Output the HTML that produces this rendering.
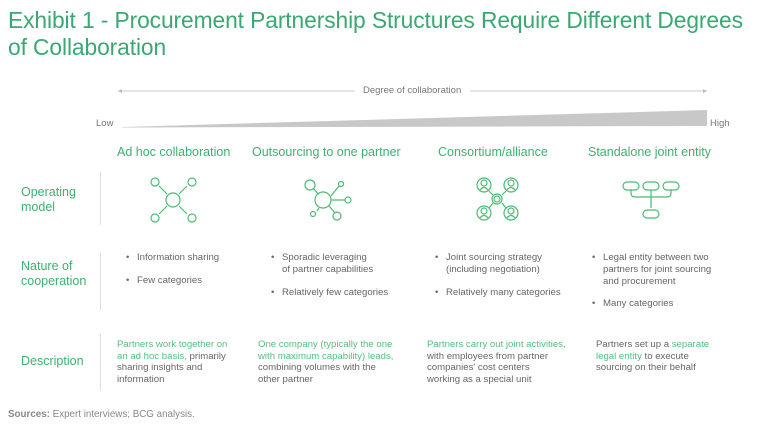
<!DOCTYPE html>
<html><head><meta charset="utf-8"><style>
body{margin:0;width:768px;height:439px;background:#fff;position:relative;overflow:hidden;font-family:"Liberation Sans",sans-serif}
div{position:absolute;white-space:nowrap}
.t{color:#3aa872;font-size:22.8px;left:8px;letter-spacing:-0.1px}
.h{color:#3fb06e;font-size:12.5px;top:145px}
.r{color:#3fb06e;font-size:12.5px;left:21px;line-height:15px}
.v{width:1px;background:#ddd;left:100px}
.b{font-size:9.6px;color:#666;line-height:11.8px}
.b span{position:absolute;left:-11px}
.d{font-size:9.6px;color:#666;line-height:11.6px}
.g{color:#55c07e}
</style></head><body>
<div class="t" style="top:7px">Exhibit 1 - Procurement Partnership Structures Require Different Degrees</div>
<div class="t" style="top:34px">of Collaboration</div>
<svg style="position:absolute;left:0;top:0" width="768" height="439">
<line x1="118" y1="91" x2="355" y2="91" stroke="#ccc" stroke-width="1"/>
<line x1="470" y1="91" x2="707" y2="91" stroke="#ccc" stroke-width="1"/>
<path d="M118 91l4-2v4zM707 91l-4-2v4z" fill="#bbb"/>
<polygon points="122,127 707,110 707,126 122,127.5" fill="#c8c8c8"/>
<g fill="none" stroke="#4bbb74" stroke-width="1.2">
<circle cx="173" cy="200" r="7"/>
<circle cx="155" cy="182" r="4"/><circle cx="192" cy="182" r="4"/><circle cx="155" cy="218" r="4"/><circle cx="192" cy="218" r="4"/>
<path d="M159 186l8 8M187 186l-8 8M159 214l8-8M187 214l-8-8"/>
<circle cx="323" cy="200" r="8"/>
<circle cx="310" cy="185" r="5"/><circle cx="341" cy="184" r="2.5"/><circle cx="348" cy="200" r="3"/><circle cx="313" cy="214" r="2.5"/><circle cx="337" cy="216" r="4"/>
<path d="M314 189l4 5M331 196l8-10M331 200h14M317 211l2-3M329 206l6 7"/>
<circle cx="497" cy="199" r="5"/><circle cx="497" cy="199" r="3"/>
<circle cx="484" cy="185" r="7"/><circle cx="511" cy="185" r="7"/><circle cx="484" cy="213" r="7"/><circle cx="511" cy="213" r="7"/>
<path d="M481 183a3 3 0 1 0 6 0a3 3 0 1 0-6 0M480 190q4-5 8 0M508 183a3 3 0 1 0 6 0a3 3 0 1 0-6 0M507 190q4-5 8 0M481 211a3 3 0 1 0 6 0a3 3 0 1 0-6 0M480 218q4-5 8 0M508 211a3 3 0 1 0 6 0a3 3 0 1 0-6 0M507 218q4-5 8 0"/>
<path d="M489 191l4 4M506 191l-4 4M489 208l4-5M506 208l-4-5"/>
<rect x="623" y="182" width="16" height="8" rx="4"/><rect x="643" y="182" width="16" height="8" rx="4"/><rect x="663" y="182" width="16" height="8" rx="4"/>
<rect x="643" y="210" width="16" height="8" rx="4"/>
<path d="M631 190v3q0 4 4 4h32q4 0 4-4v-3M651 190v18"/>
</g>
</svg>
<div style="left:363px;top:85px;font-size:9.5px;color:#777">Degree of collaboration</div>
<div style="left:96px;top:118px;font-size:9.5px;color:#777">Low</div>
<div style="left:710px;top:118px;font-size:9.5px;color:#777">High</div>
<div class="h" style="left:117px">Ad hoc collaboration</div>
<div class="h" style="left:252px">Outsourcing to one partner</div>
<div class="h" style="left:438px">Consortium/alliance</div>
<div class="h" style="left:588px">Standalone joint entity</div>
<div class="r" style="top:185px">Operating<br>model</div>
<div class="r" style="top:259px">Nature of<br>cooperation</div>
<div class="r" style="top:354px">Description</div>
<div class="v" style="top:172px;height:53px"></div>
<div class="v" style="top:253px;height:57px"></div>
<div class="v" style="top:334px;height:57px"></div>
<div class="b" style="left:137px;top:252px"><span>•</span>Information sharing</div>
<div class="b" style="left:137px;top:275px"><span>•</span>Few categories</div>
<div class="b" style="left:282px;top:252px"><span>•</span>Sporadic leveraging<br>of partner capabilities</div>
<div class="b" style="left:282px;top:287px"><span>•</span>Relatively few categories</div>
<div class="b" style="left:446px;top:252px"><span>•</span>Joint sourcing strategy<br>(including negotiation)</div>
<div class="b" style="left:446px;top:287px"><span>•</span>Relatively many categories</div>
<div class="b" style="left:603px;top:252px"><span>•</span>Legal entity between two<br>partners for joint sourcing<br>and procurement</div>
<div class="b" style="left:603px;top:298px"><span>•</span>Many categories</div>
<div class="d" style="left:117px;top:339px"><span class="g">Partners work together on<br>an ad hoc basis,</span> primarily<br>sharing insights and<br>information</div>
<div class="d" style="left:258px;top:339px"><span class="g">One company (typically the one<br>with maximum capability) leads,</span><br>combining volumes with the<br>other partner</div>
<div class="d" style="left:427px;top:339px"><span class="g">Partners carry out joint activities,</span><br>with employees from partner<br>companies' cost centers<br>working as a special unit</div>
<div class="d" style="left:596px;top:339px">Partners set up a <span class="g">separate<br>legal entity</span> to execute<br>sourcing on their behalf</div>
<div style="left:8px;top:409px;font-size:9.8px;color:#888"><b style="color:#888">Sources:</b> Expert interviews; BCG analysis.</div>
</body></html>
